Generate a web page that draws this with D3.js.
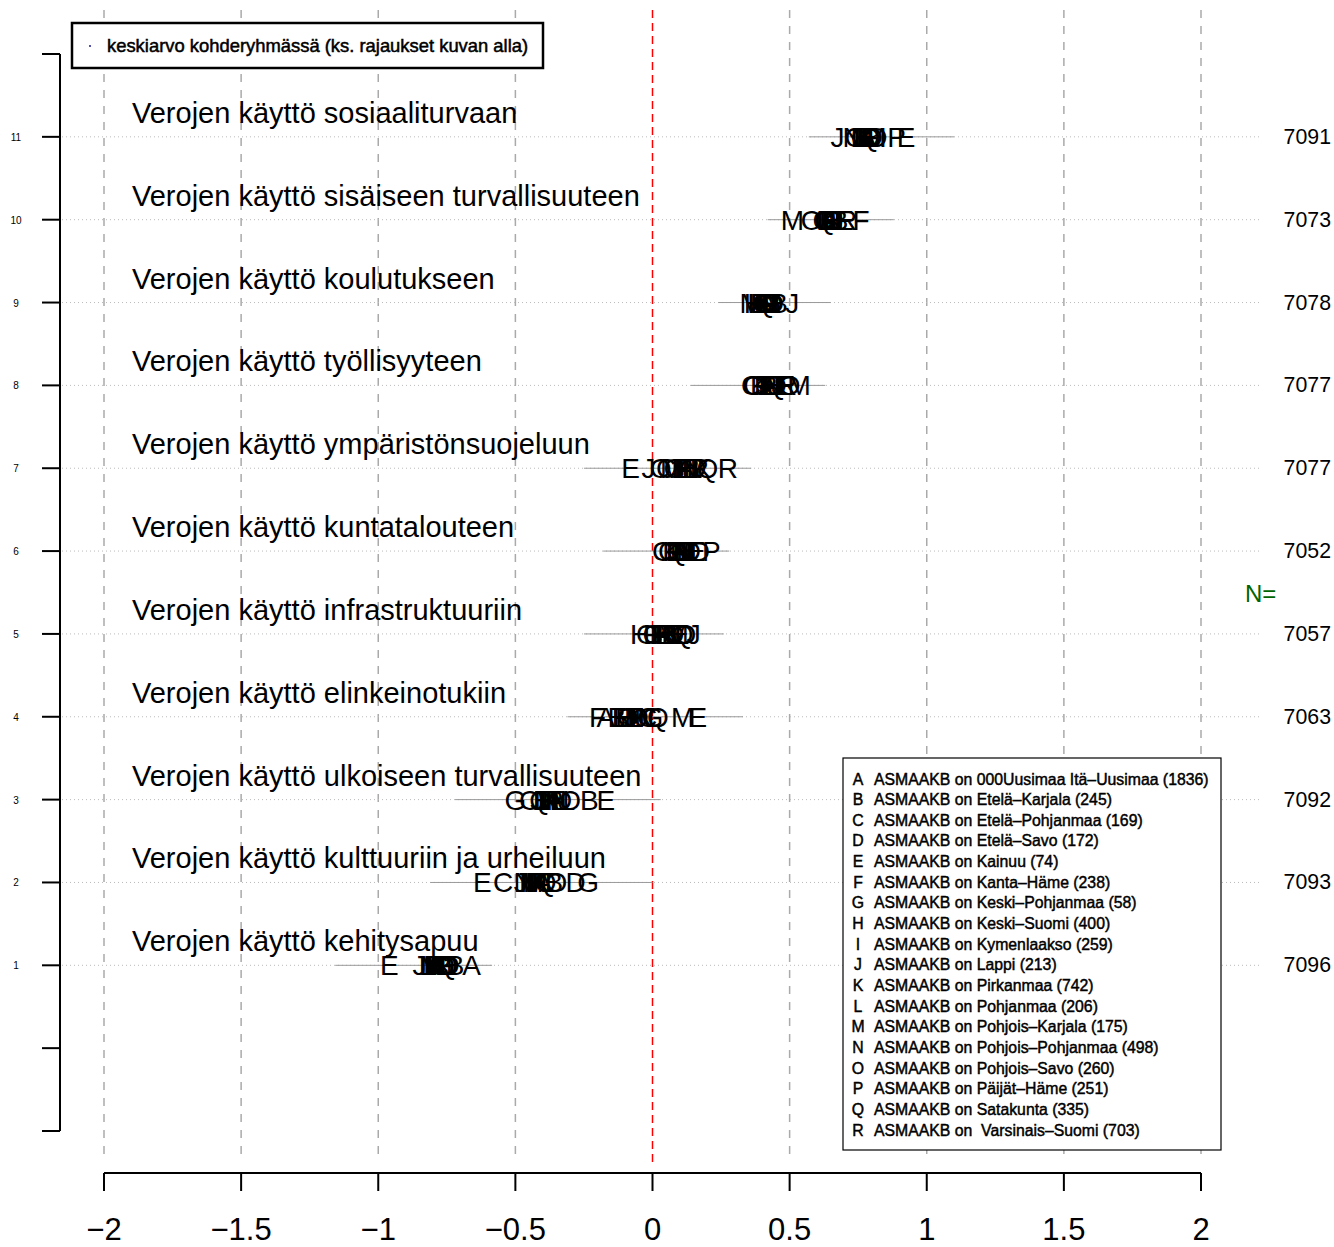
<!DOCTYPE html>
<html><head><meta charset="utf-8">
<script src="https://cdn.jsdelivr.net/npm/d3@7"></script>
<style>body{margin:0;background:#fff}svg{font-family:"Liberation Sans",Arial,sans-serif}</style>
</head><body>
<svg id="c" width="1334" height="1247"></svg>
<script>
// ---- data ----
const rows = [1,2,3,4,5,6,7,8,9,10,11];
const rowTitles = [
  "Verojen käyttö kehitysapuu",
  "Verojen käyttö kulttuuriin ja urheiluun",
  "Verojen käyttö ulkoiseen turvallisuuteen",
  "Verojen käyttö elinkeinotukiin",
  "Verojen käyttö infrastruktuuriin",
  "Verojen käyttö kuntatalouteen",
  "Verojen käyttö ympäristönsuojeluun",
  "Verojen käyttö työllisyyteen",
  "Verojen käyttö koulutukseen",
  "Verojen käyttö sisäiseen turvallisuuteen",
  "Verojen käyttö sosiaaliturvaan"
];
const nValues = [7096, 7093, 7092, 7063, 7057, 7052, 7077, 7077, 7078, 7073, 7091];
const rangeLo = [-1.157, -0.81, -0.72, -0.31, -0.25, -0.18, -0.25, 0.14, 0.24, 0.42, 0.57];
const rangeHi = [-0.585, 0.0, 0.03, 0.33, 0.26, 0.28, 0.36, 0.63, 0.65, 0.88, 1.10];
const groupLetters = ["A","B","C","D","E","F","G","H","I","J","K","L","M","N","O","P","Q","R"];
const groupLabels = [
  "ASMAAKB on 000Uusimaa Itä–Uusimaa (1836)",
  "ASMAAKB on Etelä–Karjala (245)",
  "ASMAAKB on Etelä–Pohjanmaa (169)",
  "ASMAAKB on Etelä–Savo (172)",
  "ASMAAKB on Kainuu (74)",
  "ASMAAKB on Kanta–Häme (238)",
  "ASMAAKB on Keski–Pohjanmaa (58)",
  "ASMAAKB on Keski–Suomi (400)",
  "ASMAAKB on Kymenlaakso (259)",
  "ASMAAKB on Lappi (213)",
  "ASMAAKB on Pirkanmaa (742)",
  "ASMAAKB on Pohjanmaa (206)",
  "ASMAAKB on Pohjois–Karjala (175)",
  "ASMAAKB on Pohjois–Pohjanmaa (498)",
  "ASMAAKB on Pohjois–Savo (260)",
  "ASMAAKB on Päijät–Häme (251)",
  "ASMAAKB on Satakunta (335)",
  "ASMAAKB on  Varsinais–Suomi (703)"
];
// group means per row (A..R)
const meansKehitysapu      = [-0.66,-0.72,-0.78,-0.74,-0.96,-0.80,-0.76,-0.79,-0.77,-0.85,-0.78,-0.82,-0.81,-0.80,-0.76,-0.79,-0.75,-0.77];
const meansKulttuuri       = [-0.40,-0.36,-0.545,-0.28,-0.62,-0.42,-0.235,-0.45,-0.46,-0.48,-0.41,-0.38,-0.44,-0.47,-0.35,-0.43,-0.39,-0.42];
const meansUlkoinen        = [-0.36,-0.23,-0.45,-0.33,-0.17,-0.38,-0.50,-0.40,-0.35,-0.42,-0.37,-0.31,-0.39,-0.34,-0.30,-0.36,-0.41,-0.38];
const meansElinkeino       = [-0.17,-0.13,-0.02,-0.05,0.165,-0.20,0.0,-0.10,-0.04,-0.08,-0.07,-0.12,0.11,-0.03,-0.09,-0.06,0.02,-0.11];
const meansInfra           = [0.03,0.05,0.0,0.08,0.10,0.02,-0.02,-0.045,0.01,0.15,0.04,0.06,0.09,0.07,0.12,0.03,0.11,0.05];
const meansKunta           = [0.10,0.12,0.035,0.14,0.16,0.08,0.06,0.11,0.09,0.13,0.07,0.15,0.12,0.10,0.17,0.215,0.09,0.11];
const meansYmparisto       = [0.12,0.14,0.05,0.16,-0.08,0.10,0.08,0.13,0.09,-0.015,0.18,0.11,0.07,0.15,0.03,0.17,0.20,0.275];
const meansTyollisyys      = [0.42,0.45,0.36,0.44,0.48,0.40,0.37,0.43,0.41,0.46,0.39,0.47,0.535,0.44,0.50,0.42,0.45,0.49];
const meansKoulutus        = [0.42,0.46,0.40,0.44,0.39,0.41,0.43,0.37,0.45,0.51,0.38,0.40,0.36,0.42,0.44,0.39,0.41,0.43];
const meansSisainen        = [0.64,0.68,0.62,0.66,0.70,0.76,0.63,0.65,0.61,0.67,0.64,0.69,0.51,0.66,0.58,0.65,0.63,0.71];
const meansSosiaaliturva   = [0.78,0.80,0.76,0.82,0.925,0.79,0.74,0.77,0.84,0.675,0.78,0.75,0.81,0.73,0.80,0.89,0.79,0.77];
const xTicks = [-2,-1.5,-1,-0.5,0,0.5,1,1.5,2];
const xTickLabels = ["\u22122","\u22121.5","\u22121","\u22120.5","0","0.5","1","1.5","2"];
const yTicks = [-1,0,1,2,3,4,5,6,7,8,9,10,11,12];
const legendTitle = "keskiarvo kohderyhmässä (ks. rajaukset kuvan alla)";

const allMeans = [meansKehitysapu, meansKulttuuri, meansUlkoinen, meansElinkeino, meansInfra,
  meansKunta, meansYmparisto, meansTyollisyys, meansKoulutus, meansSisainen, meansSosiaaliturva];

// ---- drawing ----
const svg = d3.select("#c");
const x = d3.scaleLinear().domain([-2,2]).range([104,1201]);
const y = d3.scaleLinear().domain([-1,12]).range([1131,54]);

// vertical dashed grid lines
svg.append("g").selectAll("line").data(xTicks.filter(d=>d!==0)).join("line")
  .attr("x1",d=>x(d)).attr("x2",d=>x(d)).attr("y1",10).attr("y2",1162)
  .attr("stroke","#aaa").attr("stroke-width",1.5).attr("stroke-dasharray","8,8");

// row dotted lines
svg.append("g").selectAll("line").data(rows).join("line")
  .attr("x1",62).attr("x2",1262).attr("y1",d=>y(d)).attr("y2",d=>y(d))
  .attr("stroke","#bbb").attr("stroke-width",1).attr("stroke-dasharray","1,3");

// red zero line
svg.append("line").attr("x1",x(0)).attr("x2",x(0)).attr("y1",10).attr("y2",1162)
  .attr("stroke","#ff0000").attr("stroke-width",1.5).attr("stroke-dasharray","8,5");

// range segments
svg.append("g").selectAll("line").data(rows).join("line")
  .attr("x1",(d,i)=>x(rangeLo[i])).attr("x2",(d,i)=>x(rangeHi[i]))
  .attr("y1",d=>y(d)).attr("y2",d=>y(d))
  .attr("stroke","#999").attr("stroke-width",1);

// row titles
svg.append("g").selectAll("text").data(rows).join("text")
  .attr("x",132).attr("y",d=>y(d)-14).attr("font-size",29).attr("fill","#000")
  .text((d,i)=>rowTitles[i]);

// group letters
rows.forEach((r,i)=>{
  svg.append("g").selectAll("text").data(allMeans[i]).join("text")
    .attr("x",d=>x(d)).attr("y",y(r)+10).attr("text-anchor","middle")
    .attr("font-size",28).attr("fill","#000")
    .text((d,j)=>groupLetters[j]);
});

// N values
svg.append("g").selectAll("text").data(rows).join("text")
  .attr("x",1331).attr("y",d=>y(d)+7).attr("text-anchor","end").attr("font-size",21.3)
  .text((d,i)=>nValues[i]);
svg.append("text").attr("x",1245).attr("y",602).attr("font-size",24).attr("fill","#006400").text("N=");

// y axis
const ya = svg.append("g");
ya.append("line").attr("x1",60).attr("x2",60).attr("y1",y(12)).attr("y2",y(-1)).attr("stroke","#000").attr("stroke-width",2);
ya.selectAll("line.t").data(yTicks).join("line").attr("class","t")
  .attr("x1",42).attr("x2",60).attr("y1",d=>y(d)).attr("y2",d=>y(d)).attr("stroke","#000").attr("stroke-width",2);
ya.selectAll("text").data(rows).join("text")
  .attr("x",16).attr("y",d=>y(d)+4).attr("text-anchor","middle").attr("font-size",10).text(d=>d);

// x axis
const xa = svg.append("g");
xa.append("line").attr("x1",x(-2)).attr("x2",x(2)).attr("y1",1173).attr("y2",1173).attr("stroke","#000").attr("stroke-width",2);
xa.selectAll("line.t").data(xTicks).join("line").attr("class","t")
  .attr("x1",d=>x(d)).attr("x2",d=>x(d)).attr("y1",1173).attr("y2",1191).attr("stroke","#000").attr("stroke-width",2);
xa.selectAll("text").data(xTicks).join("text")
  .attr("x",d=>x(d)).attr("y",1240).attr("text-anchor","middle").attr("font-size",31)
  .text((d,i)=>xTickLabels[i]);

// top legend
svg.append("rect").attr("x",72).attr("y",23).attr("width",471).attr("height",45)
  .attr("fill","#fff").attr("stroke","#000").attr("stroke-width",2.5);
svg.append("circle").attr("cx",90).attr("cy",46).attr("r",0.9).attr("fill","#000080");
svg.append("text").attr("x",107).attr("y",52).attr("font-size",18.4).attr("fill","#000")
  .attr("stroke","#000").attr("stroke-width",0.5).text(legendTitle);

// group legend
svg.append("rect").attr("x",843).attr("y",758).attr("width",378).attr("height",392)
  .attr("fill","#fff").attr("stroke","#000").attr("stroke-width",1.2);
const ly = d3.scaleLinear().domain([0,17]).range([779,1130]);
const lg = svg.append("g");
lg.selectAll("text.l").data(groupLetters).join("text").attr("class","l")
  .attr("x",858).attr("y",(d,i)=>ly(i)+5.5).attr("text-anchor","middle").attr("font-size",15.8)
  .attr("stroke","#000").attr("stroke-width",0.45).text(d=>d);
lg.selectAll("text.t").data(groupLabels).join("text").attr("class","t")
  .attr("x",874).attr("y",(d,i)=>ly(i)+5.5).attr("font-size",15.8).attr("xml:space","preserve")
  .style("white-space","pre").attr("stroke","#000").attr("stroke-width",0.45).text(d=>d);
</script>
</body></html>
